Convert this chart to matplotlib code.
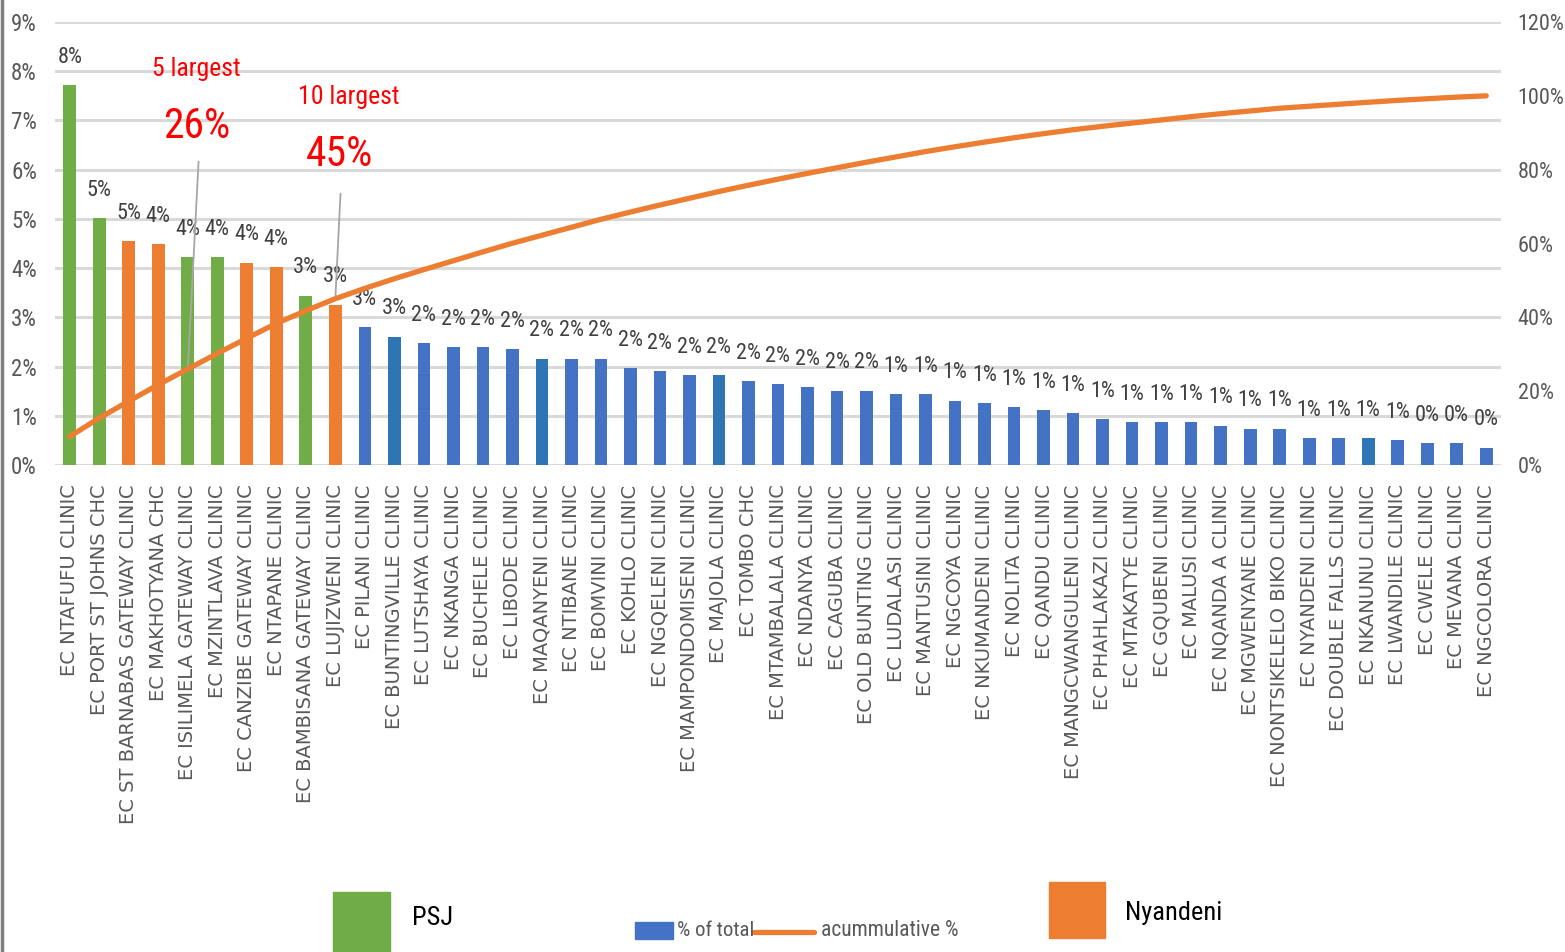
import matplotlib
matplotlib.use("Agg")
import matplotlib.pyplot as plt
from matplotlib import font_manager as fm
import numpy as np
from matplotlib.patches import Rectangle
from matplotlib.lines import Line2D

# ---- data -------------------------------------------------------------
clinics = [
    "EC NTAFUFU CLINIC", "EC PORT ST JOHNS CHC", "EC ST BARNABAS GATEWAY CLINIC",
    "EC MAKHOTYANA CHC", "EC ISILIMELA GATEWAY CLINIC", "EC MZINTLAVA CLINIC",
    "EC CANZIBE GATEWAY CLINIC", "EC NTAPANE CLINIC", "EC BAMBISANA GATEWAY CLINIC",
    "EC LUJIZWENI CLINIC", "EC PILANI CLINIC", "EC BUNTINGVILLE CLINIC",
    "EC LUTSHAYA CLINIC", "EC NKANGA CLINIC", "EC BUCHELE CLINIC", "EC LIBODE CLINIC",
    "EC MAQANYENI CLINIC", "EC NTIBANE CLINIC", "EC BOMVINI CLINIC", "EC KOHLO CLINIC",
    "EC NGQELENI CLINIC", "EC MAMPONDOMISENI CLINIC", "EC MAJOLA CLINIC",
    "EC TOMBO CHC", "EC MTAMBALALA CLINIC", "EC NDANYA CLINIC", "EC CAGUBA CLINIC",
    "EC OLD BUNTING CLINIC", "EC LUDALASI CLINIC", "EC MANTUSINI CLINIC",
    "EC NGCOYA CLINIC", "EC NKUMANDENI CLINIC", "EC NOLITA CLINIC", "EC QANDU CLINIC",
    "EC MANGCWANGULENI CLINIC", "EC PHAHLAKAZI CLINIC", "EC MTAKATYE CLINIC",
    "EC GQUBENI CLINIC", "EC MALUSI CLINIC", "EC NQANDA A CLINIC",
    "EC MGWENYANE CLINIC", "EC NONTSIKELELO BIKO CLINIC", "EC NYANDENI CLINIC",
    "EC DOUBLE FALLS CLINIC", "EC NKANUNU CLINIC", "EC LWANDILE CLINIC",
    "EC CWELE CLINIC", "EC MEVANA CLINIC", "EC NGCOLORA CLINIC",
]

# share of total, in percent
share = [
    7.72, 5.01, 4.55, 4.49, 4.23, 4.23, 4.11, 4.02, 3.44, 3.26,
    2.80, 2.61, 2.47, 2.40, 2.40, 2.35, 2.16, 2.16, 2.16, 1.97,
    1.90, 1.83, 1.83, 1.70, 1.64, 1.58, 1.51, 1.51, 1.44, 1.44,
    1.31, 1.25, 1.18, 1.12, 1.06, 0.93, 0.87, 0.87, 0.87, 0.80,
    0.74, 0.74, 0.54, 0.54, 0.54, 0.51, 0.44, 0.44, 0.35,
]

# sub-district of the ten largest facilities
district = ["PSJ", "PSJ", "Nyandeni", "Nyandeni", "PSJ", "PSJ",
            "Nyandeni", "Nyandeni", "PSJ", "Nyandeni"]

left_ticks = list(range(0, 10))
right_ticks = list(range(0, 121, 20))

# ---- styling ----------------------------------------------------------
GREEN, ORANGE, BLUE, DARKBLUE = "#70AD47", "#ED7D31", "#4472C4", "#2E75B6"
GRID, AXTXT, LBL = "#D9D9D9", "#595959", "#404040"

installed = {f.name for f in fm.fontManager.ttflist}
NARROW = [f for f in ("Liberation Sans Narrow", "Roboto Condensed",
                      "Open Sans Condensed", "Lato", "Roboto")
          if f in installed] + ["DejaVu Sans"]
highlight = {11, 16, 22, 44}

n = len(share)
x = np.arange(n)
vals = np.array(share)
cum = np.cumsum(vals) / vals.sum() * 100

colors = []
for i in range(n):
    if i < len(district):
        colors.append(GREEN if district[i] == "PSJ" else ORANGE)
    else:
        colors.append(DARKBLUE if i in highlight else BLUE)

W, H = 1565, 952
fig = plt.figure(figsize=(W / 100, H / 100), dpi=100)


def fx(px):
    return px / W


def fy(py):
    return 1 - py / H


ax = fig.add_axes([fx(55), fy(465), fx(1501) - fx(55), fy(22) - fy(465)])
ax.bar(x, vals, width=0.43, color=colors, zorder=3)
ax.set_xlim(-0.5, n - 0.5)
ax.set_ylim(0, 9)
ax.set_yticks(left_ticks, labels=[f"{t}%" for t in left_ticks])
ax.set_axisbelow(True)
ax.grid(axis="y", color=GRID, lw=2.2)
for s in ax.spines.values():
    s.set_visible(False)
ax.tick_params(axis="y", length=0, pad=13, labelsize=16.5, labelcolor=AXTXT)
for t in ax.get_yticklabels():
    t.set_family(NARROW)
ax.set_xticks(x, labels=clinics, rotation=90)
ax.tick_params(axis="x", length=0, pad=14, labelsize=14, labelcolor=AXTXT)
for t in ax.get_xticklabels():
    t.set_family("DejaVu Sans")

# value labels above bars
for i, v in enumerate(vals):
    ax.annotate(f"{v:.0f}%", (i, v), xytext=(0, 20), textcoords="offset points",
                ha="center", va="center", fontsize=16, color=LBL, family=NARROW)

# cumulative share on the secondary axis
ax2 = ax.twinx()
ax2.set_ylim(0, 120)
ax2.set_yticks(right_ticks, labels=[f"{t}%" for t in right_ticks])
for s in ax2.spines.values():
    s.set_visible(False)
ax2.tick_params(axis="y", length=0, pad=12, labelsize=16, labelcolor=AXTXT)
for t in ax2.get_yticklabels():
    t.set_family(NARROW)
ax2.plot(x, cum, color=ORANGE, lw=3.8, solid_capstyle="round", zorder=4)

# call-outs for the top five and top ten
for k, tx, ty_head, ty_val, vx, lx, ly in [(4, 4.3, 8.05, 6.87, 4.3, 4.37, 6.22),
                                           (9, 9.45, 7.48, 6.30, 9.15, 9.18, 5.57)]:
    ax.text(tx, ty_head, f"{k + 1} largest", ha="center", va="center",
            fontsize=18.5, color="#FF0000", family=NARROW)
    ax.text(vx, ty_val, f"{cum[k]:.0f}%", ha="center", va="center",
            fontsize=30, color="#FF0000", family=NARROW)
    ax2.annotate("", xy=(k, cum[k]), xycoords=ax2.transData,
                 xytext=(lx, ly), textcoords=ax.transData,
                 arrowprops=dict(arrowstyle="-", color="#A6A6A6", lw=1.3))

# legend row
fig.add_artist(Rectangle((fx(333), fy(952)), fx(57), 60 / H,
                         transform=fig.transFigure, color=GREEN))
fig.text(fx(412), fy(918), "PSJ", ha="left", va="center", fontsize=19,
         family=NARROW, color="#000000")
fig.add_artist(Rectangle((fx(1049), fy(938)), fx(56), 56 / H,
                         transform=fig.transFigure, color=ORANGE))
fig.text(fx(1125), fy(913), "Nyandeni", ha="left", va="center", fontsize=19,
         family=NARROW, color="#000000")
fig.add_artist(Rectangle((fx(635), fy(939)), fx(38), 17 / H,
                         transform=fig.transFigure, color=BLUE))
fig.text(fx(677), fy(931), "% of total", ha="left", va="center", fontsize=15,
         family=NARROW, color=AXTXT)
fig.add_artist(Line2D([fx(754), fx(814)], [fy(932), fy(932)],
                      transform=fig.transFigure, color=ORANGE, lw=3.8,
                      solid_capstyle="round"))
fig.text(fx(821), fy(931), "acummulative %", ha="left", va="center", fontsize=15.5,
         family=NARROW, color=AXTXT)

# frame edge on the left
fig.add_artist(Line2D([0.0012, 0.0012], [0, 1], transform=fig.transFigure,
                      color="#7F7F7F", lw=2.5))

fig.savefig("out.png", dpi=100)
